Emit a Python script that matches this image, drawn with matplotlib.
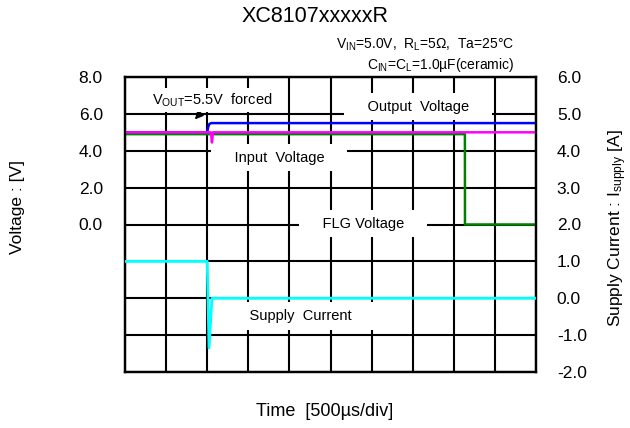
import numpy as np
import matplotlib
matplotlib.use("Agg")
import matplotlib.pyplot as plt

plt.rcParams['font.family'] = ['Liberation Sans', 'DejaVu Sans']
plt.rcParams['mathtext.fontset'] = 'custom'
plt.rcParams['mathtext.rm'] = 'Liberation Sans'
plt.rcParams['mathtext.it'] = 'Liberation Sans:italic'

#%% data (time in us, 500us/div)
t_out = [0, 1000, 1010, 1025, 1050, 5000]
v_out = [5.0, 5.0, 5.25, 5.45, 5.5, 5.5]

t_in = [0, 1045, 1058, 1070, 5000]
v_in = [5.0, 5.0, 4.45, 5.0, 5.0]

t_flg = [0, 4135, 4136, 5000]
v_flg = [4.9, 4.9, 0.0, 0.0]

t_cur = [0, 1000, 1022, 1058, 5000]
i_cur = [1.0, 1.0, -1.35, 0.0, 0.0]

left_ticks = [-8, -6, -4, -2, 0, 2, 4, 6, 8]
left_labels = ["", "", "", "", "0.0", "2.0", "4.0", "6.0", "8.0"]
right_ticks = [-2, -1, 0, 1, 2, 3, 4, 5, 6]

#%% figure
fig = plt.figure(figsize=(6.3, 4.28), dpi=100)
ax = fig.add_axes([125/630, 1-372/428, 411/630, 295/428])
ax2 = ax.twinx()

ax.set_xlim(0, 5000)
ax.set_ylim(-8, 8)
ax.set_xticks(np.arange(0, 5001, 500))
ax.set_xticklabels([])
ax.set_yticks(left_ticks)
ax.set_yticklabels(left_labels, fontsize=12.5)
ax.tick_params(length=0, pad=16)
ax.grid(True, color='black', lw=1.5)
ax.set_axisbelow(True)

ax2.set_ylim(-2, 6)
ax2.set_yticks(right_ticks)
ax2.set_yticklabels([f"{v:.1f}" for v in right_ticks], fontsize=12.5)
ax2.tick_params(length=0, pad=15)

for a in (ax, ax2):
    for s in a.spines.values():
        s.set_linewidth(1.6)
        s.set_color('black')

ax.plot(t_out, v_out, color='#0000FF', lw=1.8, zorder=3)
ax.plot(t_flg, v_flg, color='#008000', lw=1.8, zorder=3)
ax.plot(t_in, v_in, color='#FF00FF', lw=1.8, zorder=3)
ax2.plot(t_cur, i_cur, color='#00FFFF', lw=2.0, zorder=3)

box = dict(facecolor='white', edgecolor='none', boxstyle='square,pad=0.45')
kw = dict(transform=ax.transAxes, ha='center', va='center', fontsize=10.5,
          bbox=box, zorder=2)
ax.text(0.713, 0.900, "    Output  Voltage    ", **kw)
ax.text(0.375, 0.727, "    Input  Voltage    ", **kw)
ax.text(0.579, 0.502, "    FLG Voltage    ", **kw)
ax.text(0.426, 0.190, "    Supply  Current    ", **kw)

ax.annotate(r"V$_{\mathrm{OUT}}$=5.5V  forced", xy=(0.170, 0.856),
            xytext=(0.212, 0.922), xycoords='axes fraction',
            textcoords='axes fraction', ha='center', va='center',
            fontsize=10.5,
            bbox=dict(facecolor='white', edgecolor='none',
                      boxstyle='square,pad=0.25'),
            arrowprops=dict(arrowstyle='-|>', color='black', lw=1.2,
                            mutation_scale=12, shrinkA=4, shrinkB=0),
            zorder=2)

fig.text(0.5, 1-17/428, "XC8107xxxxxR", ha='center', va='center',
         fontsize=15.5)
fig.text(514/630, 1-45/428,
         r"V$_{\mathrm{IN}}$=5.0V,  R$_{\mathrm{L}}$=5Ω,  Ta=25°C",
         ha='right', va='center', fontsize=10)
fig.text(514/630, 1-65/428,
         r"C$_{\mathrm{IN}}$=C$_{\mathrm{L}}$=1.0µF(ceramic)",
         ha='right', va='center', fontsize=10)

fig.text(18/630, 1-207/428, "Voltage : [V]", rotation=90,
         ha='center', va='center', fontsize=12.5)
fig.text(618/630, 1-228/428, r"Supply Current : I$_{\mathrm{supply}}$ [A]",
         rotation=90, ha='center', va='center', fontsize=12.5)
fig.text(325/630, 1-412/428, "Time  [500µs/div]", ha='center', va='center',
         fontsize=13)

fig.savefig("out.png", dpi=100)
